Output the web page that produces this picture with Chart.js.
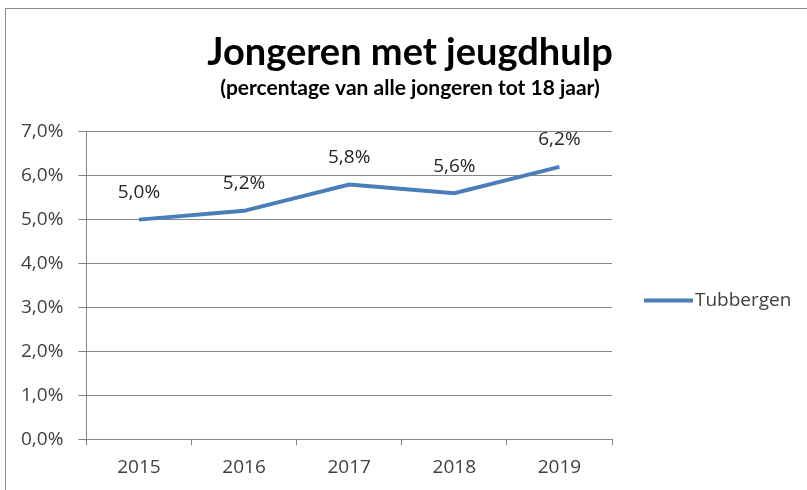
<!DOCTYPE html>
<html>
<head>
<meta charset="utf-8">
<script src="https://cdn.jsdelivr.net/npm/chart.js@4"></script>
<style>
  body { margin: 0; background: #fff; }
  #frame { position: absolute; left: 5px; top: 8px; width: 900px; height: 600px; border: 1px solid #8c8c8c; }
  #wrap { position: absolute; left: 0; top: 0; width: 807px; height: 490px; }
</style>
</head>
<body>
<div id="frame"></div>
<div id="wrap"><canvas id="myChart"></canvas></div>
<script>
// data
const years = ["2015", "2016", "2017", "2018", "2019"];
const tubbergen = [5.0, 5.2, 5.8, 5.6, 6.2];
const yTicks = [0, 1, 2, 3, 4, 5, 6, 7];

const titleFont = "Lato";
const fontName = "Open Sans";
const textGrey = "#404040";
const gridGrey = "#868686";
const lineBlue = "#4a7ebb";

function pct(v) {
  return v.toFixed(1).replace(".", ",") + "%";
}

// labels above the points, like excel data labels
const pointLabels = {
  id: "pointLabels",
  afterDatasetsDraw(chart) {
    const ctx = chart.ctx;
    const meta = chart.getDatasetMeta(0);
    ctx.save();
    ctx.font = "19px " + fontName;
    ctx.fillStyle = "#262626";
    ctx.textAlign = "center";
    ctx.textBaseline = "middle";
    meta.data.forEach((pt, i) => {
      ctx.fillText(pct(tubbergen[i]), pt.x, pt.y - 27);
    });
    ctx.restore();
  }
};

// excel style legend: short line right next to the name
const sideLegend = {
  id: "sideLegend",
  afterDraw(chart) {
    const ctx = chart.ctx;
    const area = chart.chartArea;
    const ds = chart.data.datasets[0];
    const x = area.right + 32;
    const y = (area.top + area.bottom) / 2 + 15;
    ctx.save();
    ctx.strokeStyle = ds.borderColor;
    ctx.lineWidth = 4;
    ctx.beginPath();
    ctx.moveTo(x, y);
    ctx.lineTo(x + 49, y);
    ctx.stroke();
    ctx.font = "19px " + fontName;
    ctx.fillStyle = textGrey;
    ctx.textAlign = "left";
    ctx.textBaseline = "middle";
    ctx.fillText(ds.label, x + 51, y);
    ctx.restore();
  }
};

const ctx = document.getElementById("myChart");
new Chart(ctx, {
  type: "line",
  data: {
    labels: years,
    datasets: [{
      label: "Tubbergen",
      data: tubbergen,
      borderColor: lineBlue,
      backgroundColor: lineBlue,
      borderWidth: 4,
      pointRadius: 0,
      tension: 0
    }]
  },
  options: {
    responsive: true,
    maintainAspectRatio: false,
    animation: false,
    layout: { padding: { left: 6, right: -7, top: 30, bottom: 0 } },
    plugins: {
      title: {
        display: true,
        text: "Jongeren met jeugdhulp",
        color: "#000",
        font: { family: titleFont, size: 38, weight: "bold" },
        padding: { top: 0, bottom: 0 }
      },
      subtitle: {
        display: true,
        text: "(percentage van alle jongeren tot 18 jaar)",
        color: "#000",
        font: { family: titleFont, size: 21, weight: "bold" },
        padding: { top: 0, bottom: 31 }
      },
      legend: { display: false },
      tooltip: { enabled: false }
    },
    scales: {
      x: {
        offset: true,
        grid: {
          offset: true,
          drawOnChartArea: false,
          color: gridGrey,
          tickLength: 6
        },
        border: { color: gridGrey },
        ticks: { color: textGrey, font: { family: fontName, size: 19 }, padding: 11 }
      },
      y: {
        min: 0,
        max: 7,
        afterBuildTicks(axis) {
          axis.ticks = yTicks.map(v => ({ value: v }));
        },
        grid: { color: gridGrey, tickLength: 8 },
        border: { color: gridGrey },
        ticks: {
          color: textGrey,
          font: { family: fontName, size: 19 },
          padding: 15,
          callback: (v) => pct(v)
        }
      },
      // empty axis on the right, keeps room for the legend
      legendRoom: {
        position: "right",
        grid: { display: false },
        border: { display: false },
        ticks: { display: false },
        afterFit(axis) { axis.width = 202; }
      }
    }
  },
  plugins: [pointLabels, sideLegend]
});
</script>
</body>
</html>
